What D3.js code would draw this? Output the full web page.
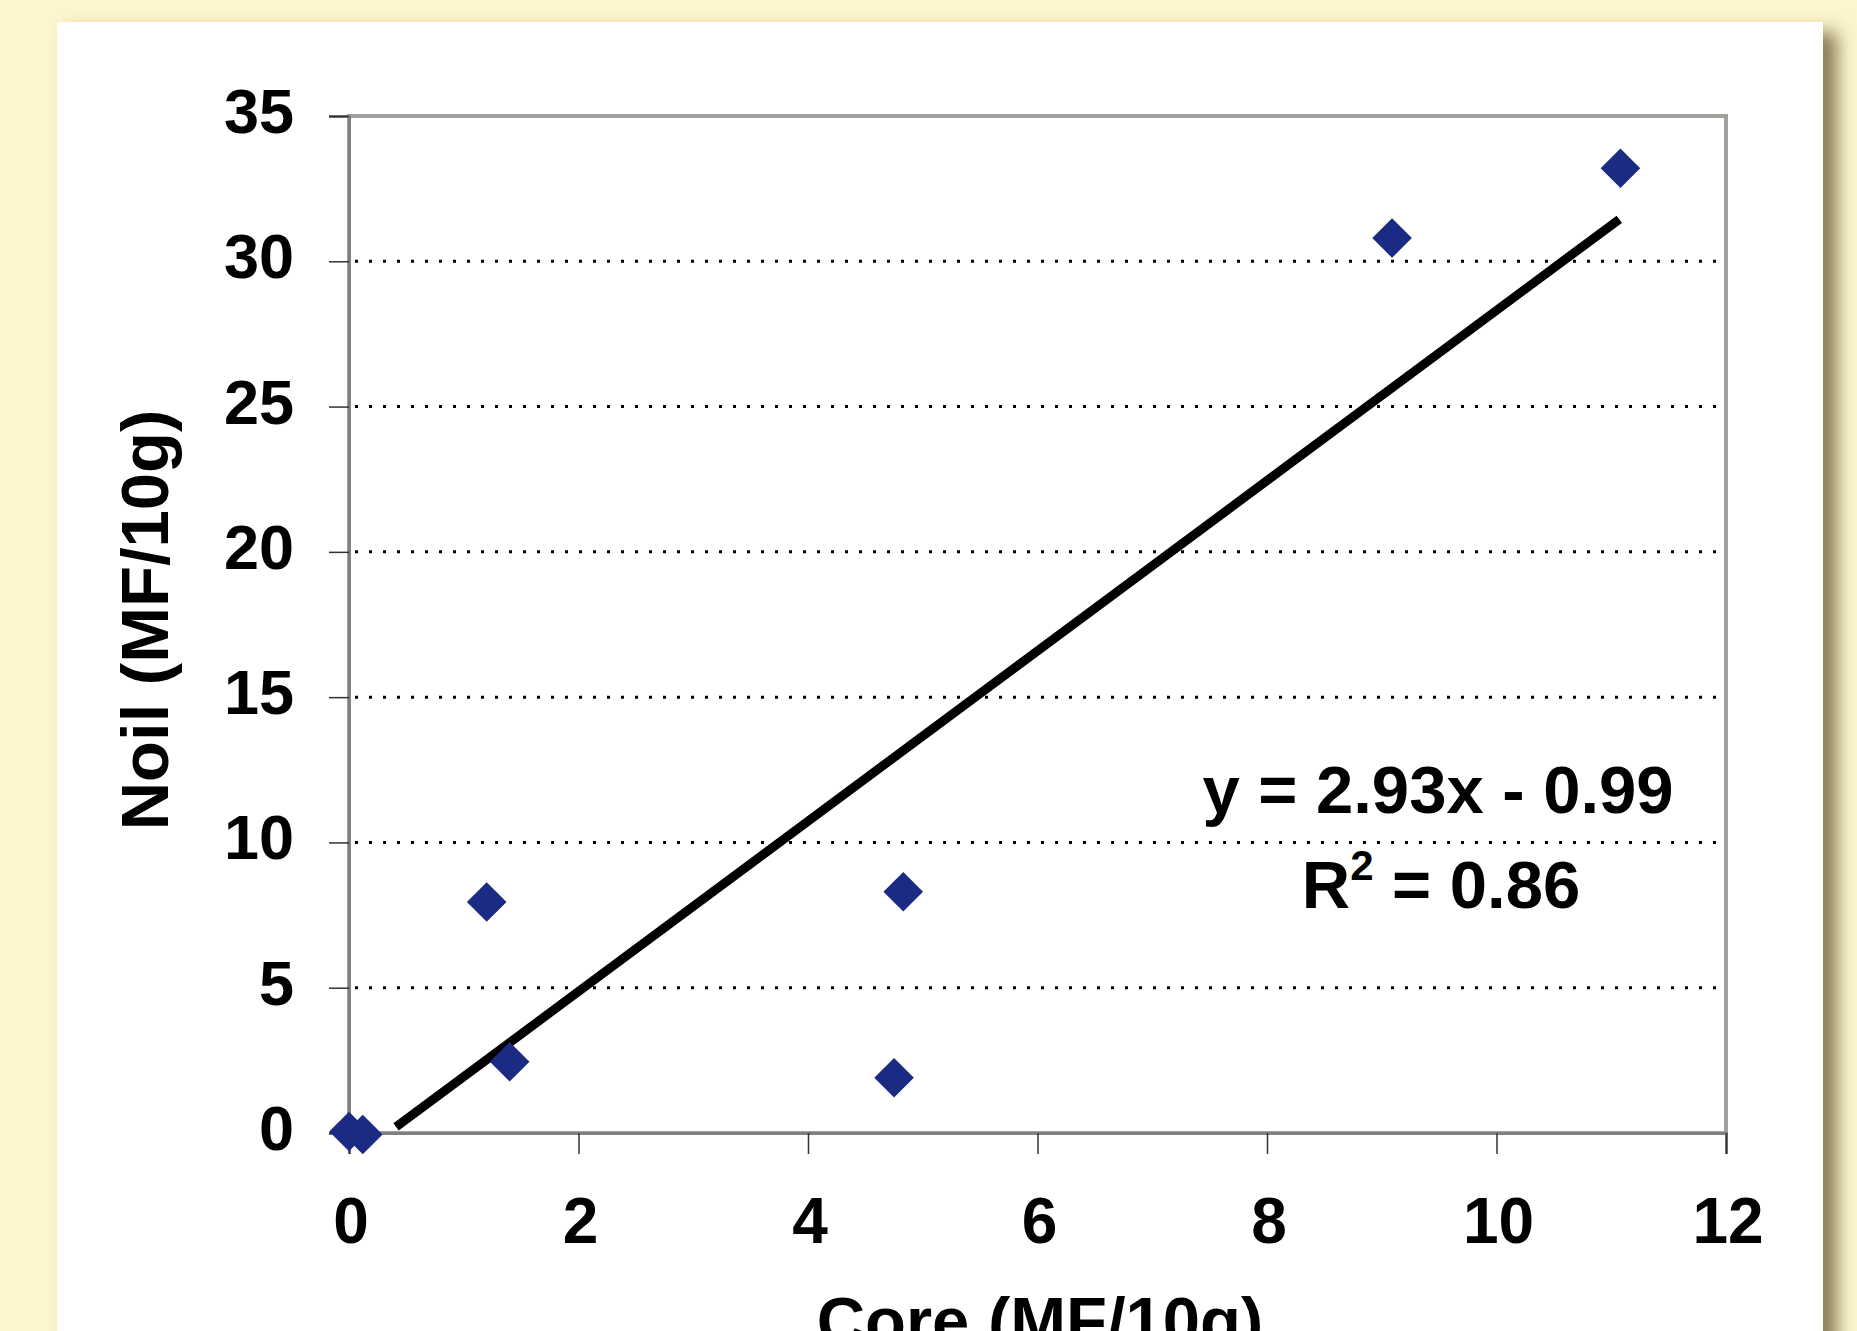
<!DOCTYPE html>
<html><head><meta charset="utf-8">
<script src="https://cdn.jsdelivr.net/npm/d3@7"></script>
<style>html,body{margin:0;padding:0;background:#fdf5cc;overflow:hidden}</style>
</head><body>
<script>
const coreX = [0.0, 0.12, 1.2, 1.4, 4.75, 4.83, 9.09, 11.08];
const noilY = [0.05, -0.05, 7.95, 2.45, 1.9, 8.3, 30.8, 33.2];
const xTicks = [0, 2, 4, 6, 8, 10, 12];
const yTicks = [0, 5, 10, 15, 20, 25, 30, 35];
const slope = 2.93, intercept = -0.99;
const trendRange = [0.41, 11.07];
const eqText = "y = 2.93x - 0.99";
const r2Value = "0.86";

const W = 1857, H = 1331;
const svg = d3.select("body").append("svg").attr("width", W).attr("height", H);
const defs = svg.append("defs");
const f = defs.append("filter").attr("id","sh").attr("x","-10%").attr("y","-10%").attr("width","130%").attr("height","130%");
f.append("feGaussianBlur").attr("in","SourceAlpha").attr("stdDeviation",9).attr("result","b");
f.append("feOffset").attr("in","b").attr("dx",14).attr("dy",10).attr("result","o");
f.append("feFlood").attr("flood-color","#5e5430").attr("flood-opacity",0.75);
f.append("feComposite").attr("in2","o").attr("operator","in").attr("result","s");
const m = f.append("feMerge"); m.append("feMergeNode").attr("in","s"); m.append("feMergeNode").attr("in","SourceGraphic");

svg.append("rect").attr("width",W).attr("height",H).attr("fill","#fdf5cc");
svg.append("rect").attr("x",57).attr("y",22).attr("width",1766).attr("height",1400).attr("fill","#fff").attr("filter","url(#sh)");

const x = d3.scaleLinear().domain([0,12]).range([349,1726]);
const y = d3.scaleLinear().domain([0,35]).range([1133,116]);
const font = "'Liberation Sans', Arial, sans-serif";

// gridlines
svg.append("g").selectAll("line").data(yTicks.filter(d=>d>0 && d<35)).join("line")
  .attr("x1",x(0)+6).attr("x2",x(12)-4).attr("y1",d=>y(d)).attr("y2",d=>y(d))
  .attr("stroke","#000").attr("stroke-width",3).attr("stroke-dasharray","3,11");

// plot border
svg.append("rect").attr("x",x(0)).attr("y",y(35)).attr("width",x(12)-x(0)).attr("height",y(0)-y(35))
  .attr("fill","none").attr("stroke","#a0a09c").attr("stroke-width",4);

// axes (lines and ticks)
const ya = svg.append("g").attr("transform",`translate(${x(0)},0)`)
  .call(d3.axisLeft(y).tickValues(yTicks).tickSize(20).tickFormat(""));
const xa = svg.append("g").attr("transform",`translate(0,${y(0)})`)
  .call(d3.axisBottom(x).tickValues(xTicks).tickSize(21).tickFormat(""));
[ya,xa].forEach(a=>{
  a.select(".domain").attr("stroke","#808080").attr("stroke-width",3);
  a.selectAll(".tick line").attr("stroke","#333").attr("stroke-width",1.5);
});

// tick labels
svg.append("g").selectAll("text").data(yTicks).join("text")
  .attr("x",294).attr("y",d=>y(d)+17).attr("text-anchor","end")
  .attr("font-family",font).attr("font-weight","bold").attr("font-size",63).text(d=>d);
svg.append("g").selectAll("text").data(xTicks).join("text")
  .attr("x",d=>x(d)+2).attr("y",1243).attr("text-anchor","middle")
  .attr("font-family",font).attr("font-weight","bold").attr("font-size",64).text(d=>d);

// trendline
svg.append("line")
  .attr("x1",x(trendRange[0])).attr("y1",y(slope*trendRange[0]+intercept))
  .attr("x2",x(trendRange[1])).attr("y2",y(slope*trendRange[1]+intercept))
  .attr("stroke","#000").attr("stroke-width",9);

// points
const pts = coreX.map((v,i)=>({x:v,y:noilY[i]}));
svg.append("g").selectAll("path").data(pts).join("path")
  .attr("d",d3.symbol().type(d3.symbolSquare).size(28*28))
  .attr("transform",d=>`translate(${x(d.x)},${y(d.y)}) rotate(45)`)
  .attr("fill","#1b2a82");

// equation
svg.append("text").attr("x",1438).attr("y",813).attr("text-anchor","middle")
  .attr("font-family",font).attr("font-weight","bold").attr("font-size",67).text(eqText);
const r2 = svg.append("text").attr("x",1441).attr("y",908).attr("text-anchor","middle")
  .attr("font-family",font).attr("font-weight","bold").attr("font-size",67);
r2.append("tspan").text("R");
r2.append("tspan").attr("font-size",42).attr("dy",-28).text("2");
r2.append("tspan").attr("dy",28).text(" = " + r2Value);

// axis titles
svg.append("text").attr("transform","translate(168,620) rotate(-90)").attr("text-anchor","middle")
  .attr("font-family",font).attr("font-weight","bold").attr("font-size",67).text("Noil (MF/10g)");
svg.append("text").attr("x",1040).attr("y",1344).attr("text-anchor","middle")
  .attr("font-family",font).attr("font-weight","bold").attr("font-size",67).text("Core (MF/10g)");
</script>
</body></html>
